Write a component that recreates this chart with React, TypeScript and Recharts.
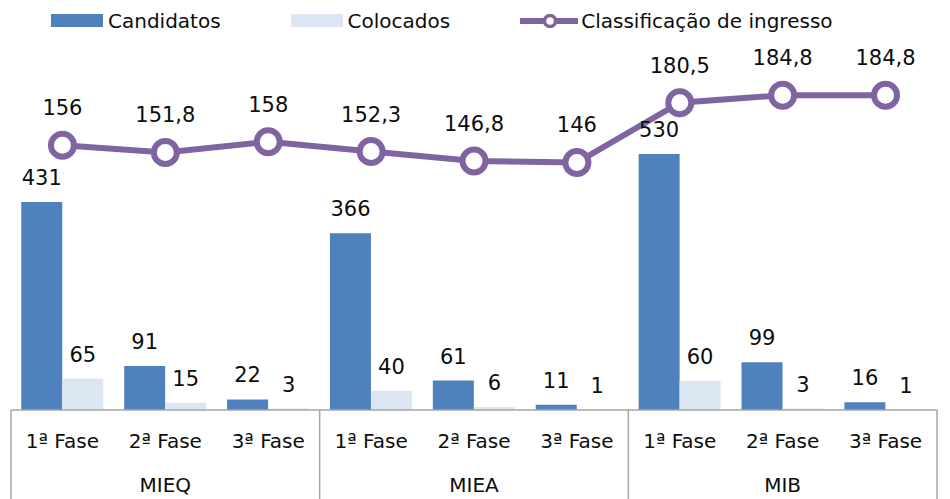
import React from 'react';
import { ComposedChart, Bar, Line, XAxis, YAxis, Legend, LabelList } from 'recharts';

const fases = ['1ª Fase', '2ª Fase', '3ª Fase', '1ª Fase', '2ª Fase', '3ª Fase', '1ª Fase', '2ª Fase', '3ª Fase'];
const cursos = ['MIEQ', 'MIEQ', 'MIEQ', 'MIEA', 'MIEA', 'MIEA', 'MIB', 'MIB', 'MIB'];
const candidatos = [431, 91, 22, 366, 61, 11, 530, 99, 16];
const colocados = [65, 15, 3, 40, 6, 1, 60, 3, 1];
const classificacao = [156, 151.8, 158, 152.3, 146.8, 146, 180.5, 184.8, 184.8];
const legendOrder = ['candidatos', 'colocados', 'classificacao'];

const data = fases.map((fase, i) => ({
  key: `${cursos[i]}-${i}`,
  fase,
  curso: cursos[i],
  candidatos: candidatos[i],
  colocados: colocados[i],
  classificacao: classificacao[i],
}));

const FONT = '"DejaVu Sans", Verdana, sans-serif';
const TEXT = '#0d0d0d';
const AXIS = '#a6a6a6';
const BLUE = '#4f81bd';
const LIGHT = '#dce6f2';
const PURPLE = '#8064a2';

const fmt = (v: any) => String(v).replace('.', ',');

// Inner axis: phase labels plus the group separators running to the bottom edge
const PhaseTick = (props: any) => {
  const { x, y, index, payload } = props;
  const half = payload?.offset ?? 0;
  const d = data[index];
  if (!d) return null;
  return (
    <g>
      {index % 3 === 0 && (
        <line x1={x - half} x2={x - half} y1={y} y2={y + 95} stroke={AXIS} strokeWidth={1.5} />
      )}
      {index === data.length - 1 && (
        <line x1={x + half} x2={x + half} y1={y} y2={y + 95} stroke={AXIS} strokeWidth={1.5} />
      )}
      <text x={x} y={y} dy={38} textAnchor="middle" fontFamily={FONT} fontSize={20} fill={TEXT}>
        {d.fase}
      </text>
    </g>
  );
};

// Outer axis: one course label centred under each group of three phases
const GroupTick = (props: any) => {
  const { x, y, index } = props;
  const d = data[index];
  if (!d || index % 3 !== 1) return null;
  return (
    <text x={x} y={y} dy={37} textAnchor="middle" fontFamily={FONT} fontSize={20} fill={TEXT}>
      {d.curso}
    </text>
  );
};

const LegendContent = ({ payload }: any) => {
  const items = [...(payload || [])].sort(
    (a: any, b: any) => legendOrder.indexOf(a.dataKey) - legendOrder.indexOf(b.dataKey)
  );
  return (
    <div
      style={{
        display: 'flex',
        alignItems: 'center',
        paddingLeft: 51,
        gap: 70,
        height: 41,
        fontFamily: FONT,
        fontSize: 20,
        color: TEXT,
        whiteSpace: 'nowrap',
      }}
    >
      {items.map((p: any) => (
        <div key={p.value} style={{ display: 'flex', alignItems: 'center' }}>
          {p.dataKey === 'classificacao' ? (
            <svg width={58} height={18} style={{ marginRight: 3 }}>
              <line x1={0} x2={58} y1={9} y2={9} stroke={PURPLE} strokeWidth={6} strokeLinecap="round" />
              <circle cx={30} cy={9} r={5.5} fill="#fff" stroke={PURPLE} strokeWidth={3.5} />
            </svg>
          ) : (
            <span style={{ display: 'inline-block', width: 52, height: 13, background: p.color, marginRight: 5 }} />
          )}
          <span>{p.value}</span>
        </div>
      ))}
    </div>
  );
};

export default function App() {
  return (
    <div style={{ position: 'absolute', left: 0, top: 0, width: 950, height: 499, background: '#fff' }}>
      <ComposedChart
        width={950}
        height={499}
        data={data}
        margin={{ top: 31, right: 13, bottom: 0, left: 11 }}
        barCategoryGap="10%"
        barGap={0}
      >
        <Legend
          verticalAlign="top"
          align="left"
          content={<LegendContent />}
          wrapperStyle={{ top: 0, left: 0, width: 950, height: 41 }}
        />
        <XAxis
          xAxisId="fase"
          dataKey="key"
          interval={0}
          height={45}
          tickSize={0}
          tickMargin={0}
          tickLine={false}
          axisLine={{ stroke: AXIS, strokeWidth: 1.5 }}
          tick={<PhaseTick />}
        />
        <XAxis
          xAxisId="grupo"
          dataKey="key"
          interval={0}
          height={44}
          tickSize={0}
          tickMargin={0}
          tickLine={false}
          axisLine={false}
          tick={<GroupTick />}
        />
        <YAxis yAxisId="barras" domain={[0, 700]} hide />
        <YAxis yAxisId="linha" orientation="right" domain={[3.2, 198.2]} hide />
        <Bar xAxisId="fase" yAxisId="barras" dataKey="candidatos" name="Candidatos" fill={BLUE} isAnimationActive={false}>
          <LabelList dataKey="candidatos" position="top" offset={17} fontFamily={FONT} fontSize={21} fill={TEXT} />
        </Bar>
        <Bar xAxisId="fase" yAxisId="barras" dataKey="colocados" name="Colocados" fill={LIGHT} isAnimationActive={false}>
          <LabelList dataKey="colocados" position="top" offset={17} fontFamily={FONT} fontSize={21} fill={TEXT} />
        </Bar>
        <Line
          xAxisId="fase"
          yAxisId="linha"
          dataKey="classificacao"
          name="Classificação de ingresso"
          type="linear"
          stroke={PURPLE}
          strokeWidth={6}
          dot={{ r: 11.5, fill: '#fff', stroke: PURPLE, strokeWidth: 6 }}
          activeDot={false}
          isAnimationActive={false}
        >
          <LabelList
            dataKey="classificacao"
            position="top"
            offset={30}
            formatter={fmt}
            fontFamily={FONT}
            fontSize={21}
            fill={TEXT}
          />
        </Line>
      </ComposedChart>
    </div>
  );
}
